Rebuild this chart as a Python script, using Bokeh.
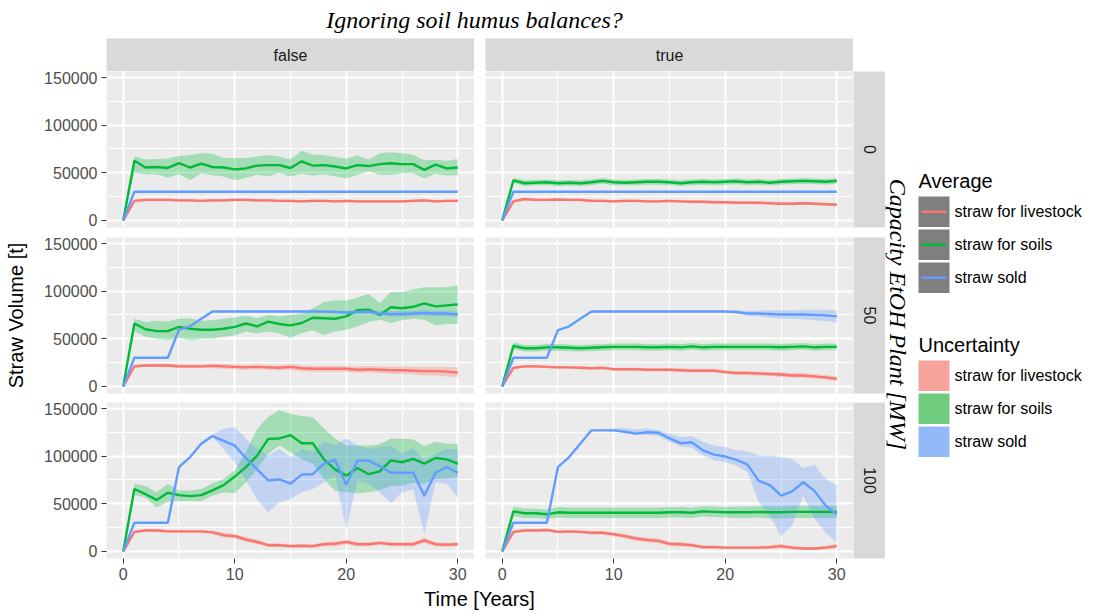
import math
from bokeh.plotting import figure
from bokeh.layouts import column, row
from bokeh.models import Range1d, FixedTicker, BasicTickFormatter, Label, Spacer
from bokeh.embed import file_html
from bokeh.resources import INLINE

# ---------------- data ----------------
years = [0, 1, 2, 3, 4, 5, 6, 7, 8, 9, 10, 11, 12, 13, 14, 15, 16, 17, 18, 19, 20,
         21, 22, 23, 24, 25, 26, 27, 28, 29, 30]
series_names = ["straw for livestock", "straw for soils", "straw sold"]
col_labels = ["false", "true"]
row_labels = ["0", "50", "100"]
x_ticks = [0, 10, 20, 30]
x_minor = [5, 15, 25]
y_ticks = [0, 50000, 100000, 150000]
y_minor = [25000, 75000, 125000]
title_text = "Ignoring soil humus balances?"
x_title = "Time [Years]"
y_title = "Straw Volume [t]"
row_title = "Capacity EtOH Plant [MW]"

# Panel false / 0
A_live = [0, 20500, 21500, 21500, 21500, 21000, 21000, 20500, 21000, 21000, 21500, 21500, 21000, 21000, 20500, 20500, 20000, 20500, 20500, 20000, 20500, 20000, 20000, 20000, 20000, 20000, 20500, 21000, 20000, 20500, 20500]
A_live_err = [0, 1500, 1500, 1500, 1500, 1500, 1500, 1500, 1500, 1500, 1500, 1500, 1500, 1500, 1500, 1500, 1500, 1500, 1500, 1500, 1500, 1500, 1500, 1500, 1500, 1500, 1500, 1500, 1500, 1500, 1500]
A_soil = [0, 62500, 55500, 56000, 55000, 60000, 55500, 59500, 56000, 55500, 53500, 54500, 57500, 58000, 58000, 55000, 62000, 57500, 58000, 56500, 54500, 58000, 57000, 59000, 60000, 59000, 59000, 53000, 58500, 54500, 55500]
A_soil_lo = [0, 50000, 48500, 48500, 45000, 48500, 42000, 49500, 47500, 46000, 42000, 44500, 48000, 46000, 50000, 46000, 49000, 47000, 48500, 46000, 44000, 48000, 51500, 48000, 48000, 49500, 49500, 44000, 49000, 47000, 47000]
A_soil_hi = [0, 67000, 64000, 64500, 65000, 67500, 68500, 70500, 70000, 65500, 65500, 65500, 67000, 68500, 67000, 64000, 73000, 69000, 68500, 66500, 65000, 68000, 63500, 70500, 71500, 70500, 68500, 63000, 63500, 62500, 64500]
A_sold = [0, 30000, 30000, 30000, 30000, 30000, 30000, 30000, 30000, 30000, 30000, 30000, 30000, 30000, 30000, 30000, 30000, 30000, 30000, 30000, 30000, 30000, 30000, 30000, 30000, 30000, 30000, 30000, 30000, 30000, 30000]

# Panel true / 0
B_live = [0, 20000, 22500, 21500, 21500, 22000, 21500, 21500, 20500, 20500, 20000, 20500, 20500, 20000, 20000, 20500, 20000, 19500, 19500, 19000, 19000, 18500, 18500, 18500, 18000, 17500, 17500, 18000, 17500, 17000, 16500]
B_live_err = [0, 1500, 1500, 1500, 1500, 1500, 1500, 1500, 1500, 1500, 1500, 1500, 1500, 1500, 1500, 1500, 1500, 1500, 1500, 1500, 1500, 1500, 1500, 1500, 1500, 1500, 1500, 1500, 1500, 1500, 1500]
B_soil = [0, 42000, 39000, 39500, 40000, 39000, 39500, 39000, 40000, 41500, 40000, 39500, 40000, 40500, 40500, 40000, 39000, 40000, 40500, 40000, 40500, 41000, 40000, 40500, 39500, 40500, 41000, 41500, 41000, 40500, 41500]
B_soil_err = [0, 2500, 3000, 3000, 3000, 3000, 3000, 3000, 3000, 3000, 3000, 3000, 3000, 3000, 3000, 3000, 3000, 3000, 3000, 3000, 3000, 3000, 3000, 3000, 3000, 3000, 3000, 3000, 3000, 3000, 3000]
B_sold = [0, 30000, 30000, 30000, 30000, 30000, 30000, 30000, 30000, 30000, 30000, 30000, 30000, 30000, 30000, 30000, 30000, 30000, 30000, 30000, 30000, 30000, 30000, 30000, 30000, 30000, 30000, 30000, 30000, 30000, 30000]

# Panel false / 50
C_live = [0, 21000, 22000, 22000, 22000, 21000, 21000, 21000, 21500, 21000, 20500, 20000, 20500, 20000, 19500, 20500, 19000, 18500, 18500, 18500, 18500, 17500, 18000, 17500, 17000, 17000, 16500, 16000, 16000, 15500, 14500]
C_live_err = [0, 1500, 1500, 1500, 2000, 2000, 2000, 2000, 2500, 2500, 2500, 2500, 2500, 2500, 2500, 3000, 3000, 3000, 3000, 3000, 3000, 3500, 3500, 3500, 4000, 4000, 4000, 4500, 4500, 5000, 5000]
C_soil = [0, 66000, 60000, 58000, 58000, 62500, 60500, 59500, 59500, 60500, 62500, 66000, 63000, 68000, 65500, 64000, 66500, 72000, 71500, 71000, 73500, 80000, 80500, 75000, 83000, 82000, 83500, 87000, 84000, 85000, 86000]
C_soil_lo = [0, 57500, 52000, 50000, 48500, 51000, 48500, 50000, 50000, 52000, 53500, 57500, 55500, 57500, 55500, 51000, 56000, 59000, 54000, 57500, 59500, 63000, 67500, 70000, 66500, 69500, 71000, 70000, 64000, 65500, 65500]
C_soil_hi = [0, 71000, 67500, 69000, 68000, 71000, 71500, 69000, 69500, 71000, 72500, 74000, 71500, 75000, 73500, 75000, 76500, 82000, 88500, 90000, 90000, 93000, 97000, 87500, 99000, 99000, 102000, 104000, 104000, 104000, 106000]
C_sold = [0, 30000, 30000, 30000, 30000, 59500, 63000, 71000, 78500, 78500, 78500, 78500, 78500, 78500, 78500, 78500, 78500, 78500, 78500, 78000, 77500, 78000, 78500, 76500, 76000, 76000, 76500, 77000, 76500, 76500, 75500]
C_sold_err = [0, 0, 0, 0, 0, 0, 0, 0, 0, 0, 0, 0, 0, 0, 0, 0, 0, 0, 500, 1000, 1500, 2000, 2500, 2500, 3000, 3000, 3000, 3000, 3000, 3000, 3000]

# Panel true / 50
D_live = [0, 19500, 21000, 21000, 20500, 20000, 20000, 19500, 19000, 19500, 18000, 18000, 18000, 17500, 17500, 17500, 17000, 16500, 16500, 16500, 15000, 14000, 14000, 13500, 13000, 12500, 11500, 11500, 10500, 9500, 8000]
D_live_err = [0, 1500, 1500, 1500, 1500, 1500, 1500, 1500, 1500, 1500, 1500, 1500, 1500, 1500, 1500, 1500, 2000, 2000, 2000, 2000, 2000, 2000, 2000, 2000, 2000, 2500, 2500, 2500, 2500, 2500, 2500]
D_soil = [0, 42500, 40000, 40000, 41000, 41000, 40500, 40000, 40500, 41000, 41500, 41500, 41500, 41000, 41000, 41500, 41000, 42000, 41000, 41500, 41500, 41500, 41500, 41500, 41500, 41000, 41500, 42000, 41000, 41500, 41500]
D_soil_err = [0, 3500, 3500, 3500, 3500, 3500, 3500, 3500, 3500, 3500, 3500, 3500, 3500, 3500, 3500, 3500, 3500, 3500, 3500, 3500, 3500, 3500, 3500, 3500, 3500, 3500, 3500, 3500, 3500, 3500, 3500]
D_sold = [0, 30000, 30000, 30000, 30000, 59000, 63000, 71000, 78500, 78500, 78500, 78500, 78500, 78500, 78500, 78500, 78500, 78500, 78500, 78500, 78500, 78000, 76500, 76500, 76000, 75500, 75500, 75500, 75000, 74500, 73500]
D_sold_err = [0, 0, 0, 0, 0, 0, 0, 0, 0, 0, 0, 0, 0, 0, 0, 0, 0, 0, 0, 0, 500, 1500, 2500, 3000, 4000, 4500, 4500, 5000, 5500, 6000, 6500]

# Panel false / 100
E_live = [0, 20500, 22000, 22000, 21000, 21000, 21000, 21000, 20000, 17000, 16000, 12500, 10000, 6500, 6500, 5500, 6000, 5500, 7500, 8000, 10000, 7500, 7500, 9000, 7500, 7500, 7500, 11500, 7500, 7000, 7500]
E_live_err = [0, 1500, 1500, 1500, 1500, 1500, 1500, 1500, 2000, 2500, 2500, 2500, 2500, 2000, 2000, 2000, 2000, 2000, 2000, 2500, 2500, 2000, 2000, 2000, 2000, 2000, 2000, 3000, 2000, 2000, 2000]
E_soil = [0, 65500, 60000, 54000, 61500, 59000, 58000, 59000, 64000, 69500, 78500, 88500, 100500, 118000, 118500, 122000, 113500, 113500, 96500, 86000, 79500, 87500, 81000, 84000, 95500, 93500, 97000, 92000, 98000, 96500, 92000]
E_soil_lo = [0, 59000, 56500, 46000, 52000, 53000, 53000, 53000, 58500, 62000, 61000, 72500, 86500, 102500, 111000, 104000, 97000, 92000, 76000, 63500, 62000, 61000, 62000, 64500, 68500, 69000, 72000, 71000, 76000, 76500, 78000]
E_soil_hi = [0, 71000, 68500, 62000, 71000, 64000, 64000, 65500, 71500, 76000, 85000, 104000, 128500, 141000, 148000, 144500, 142000, 141000, 129000, 118500, 111000, 111000, 111000, 112500, 118500, 118500, 117500, 110500, 115000, 113000, 113000]
E_sold = [0, 30000, 30000, 30000, 30000, 88500, 99000, 113000, 121000, 116000, 111000, 98000, 86000, 74500, 75500, 71000, 80500, 81000, 92000, 96000, 70000, 95000, 95500, 89500, 82500, 82500, 82500, 58500, 82500, 88500, 82500]
E_sold_lo = [0, 30000, 30000, 30000, 30000, 87500, 98000, 111000, 120000, 107500, 93500, 74500, 55000, 41000, 51500, 55000, 62000, 65500, 72500, 79500, 23000, 74500, 71000, 62000, 50500, 62000, 65500, 18000, 72500, 71000, 56500]
E_sold_hi = [0, 30000, 30000, 30000, 30000, 89500, 100000, 115000, 122500, 129000, 130500, 118500, 107500, 100500, 107500, 99000, 107500, 104000, 115000, 111000, 118500, 111000, 107500, 109500, 111000, 102500, 108500, 95500, 102500, 107500, 107500]

# Panel true / 100
F_live = [0, 20500, 22000, 22000, 22500, 20500, 21000, 20500, 19500, 19500, 18000, 16000, 13500, 12000, 11000, 8000, 7500, 6500, 4500, 4500, 4000, 4000, 4000, 4000, 4500, 5500, 4000, 3000, 3000, 4000, 5500]
F_live_err = [0, 1500, 1500, 1500, 1500, 1500, 1500, 1500, 2000, 2000, 2000, 2500, 2500, 2500, 2500, 2500, 2500, 2000, 2000, 2000, 1500, 1500, 1500, 1500, 2000, 2500, 2000, 1500, 1500, 2000, 2500]
F_soil = [0, 42000, 40000, 40000, 39000, 41000, 40500, 40500, 40500, 40500, 40500, 40500, 40500, 40500, 40500, 41000, 41000, 40500, 42000, 41500, 41000, 41000, 41000, 41500, 41000, 41000, 41500, 41500, 41500, 41500, 41500]
F_soil_err = [0, 5000, 5000, 5000, 5000, 5500, 5500, 5500, 5500, 5500, 5500, 5500, 5500, 5500, 5500, 5500, 5500, 5500, 5500, 5500, 5500, 6000, 6000, 6000, 6500, 6500, 6500, 6500, 6500, 6500, 6500]
F_sold = [0, 30000, 30000, 30000, 30000, 88500, 99000, 113000, 127000, 127000, 127000, 125500, 123500, 125000, 124500, 118500, 113500, 114500, 106000, 101500, 99500, 96000, 91000, 74000, 69500, 58500, 63000, 72500, 63500, 48000, 39000]
F_sold_lo = [0, 30000, 30000, 30000, 30000, 88500, 99000, 113000, 127000, 126500, 126000, 124500, 122000, 122500, 121000, 115000, 110000, 108500, 100500, 95500, 93500, 90000, 83000, 51500, 37500, 16000, 27000, 58500, 34000, 19500, 9000]
F_sold_hi = [0, 30000, 30000, 30000, 30000, 88500, 99000, 113000, 127000, 127500, 129000, 129500, 128000, 129000, 127000, 123500, 120000, 121000, 115000, 111000, 109500, 106000, 105000, 100500, 100500, 99000, 97000, 87500, 91000, 76000, 69500]


def band(mean, err):
    return [m - e for m, e in zip(mean, err)], [m + e for m, e in zip(mean, err)]


def flat(mean):
    return list(mean), list(mean)


# (row, col) -> list of (mean, lo, hi) for livestock, soils, sold
panel_data = {
    (0, 0): [(A_live, *band(A_live, A_live_err)), (A_soil, A_soil_lo, A_soil_hi), (A_sold, *flat(A_sold))],
    (0, 1): [(B_live, *band(B_live, B_live_err)), (B_soil, *band(B_soil, B_soil_err)), (B_sold, *flat(B_sold))],
    (1, 0): [(C_live, *band(C_live, C_live_err)), (C_soil, C_soil_lo, C_soil_hi), (C_sold, *band(C_sold, C_sold_err))],
    (1, 1): [(D_live, *band(D_live, D_live_err)), (D_soil, *band(D_soil, D_soil_err)), (D_sold, *band(D_sold, D_sold_err))],
    (2, 0): [(E_live, *band(E_live, E_live_err)), (E_soil, E_soil_lo, E_soil_hi), (E_sold, E_sold_lo, E_sold_hi)],
    (2, 1): [(F_live, *band(F_live, F_live_err)), (F_soil, *band(F_soil, F_soil_err)), (F_sold, F_sold_lo, F_sold_hi)],
}

# ---------------- style ----------------
colors = ["#F8766D", "#00BA38", "#619CFF"]
key_fill = ["#F5A39B", "#70CC7F", "#94B9F8"]
FONT = "Liberation Sans"
SERIF = "Liberation Serif"
PANEL_BG = "#EBEBEB"
STRIP_BG = "#D9D9D9"
FRAME_W, FRAME_H = 368, 156
BOTTOM_BORDERS = [10, 9, 30]


def blank(width, height, xr, yr, bg="white", ml=0, mb=0):
    f = figure(width=width, height=height, x_range=xr, y_range=yr,
               output_backend="svg", toolbar_location=None,
               x_axis_location=None, y_axis_location=None,
               background_fill_color=bg, border_fill_color="white",
               min_border_left=ml, min_border_right=0, min_border_top=0,
               min_border_bottom=mb)
    f.outline_line_color = None
    f.grid.visible = False
    return f


def strip(width, height, text, ml=0, mb=0, vertical=False):
    s = blank(width, height, Range1d(0, 1), Range1d(0, 1), bg=STRIP_BG, ml=ml, mb=mb)
    s.add_layout(Label(x=0.5, y=0.5, text=text, text_align="center", text_baseline="middle",
                       angle=(-math.pi / 2 if vertical else 0), text_font=FONT,
                       text_font_size="16px", text_color="#1A1A1A"))
    return s


def make_panel(ri, ci):
    left = ci == 0
    bottom = ri == 2
    ml = 106 if left else 11
    mb = BOTTOM_BORDERS[ri]
    p = figure(width=FRAME_W + ml, height=FRAME_H + mb,
               x_range=Range1d(-1.5, 31.5), y_range=Range1d(-7438, 156198),
               output_backend="svg", toolbar_location=None,
               x_axis_location=("below" if bottom else None),
               y_axis_location=("left" if left else None),
               background_fill_color=PANEL_BG, border_fill_color="white",
               min_border_left=ml, min_border_right=0, min_border_top=0, min_border_bottom=mb)
    p.outline_line_color = None
    xt = FixedTicker(ticks=x_ticks, minor_ticks=x_minor)
    yt = FixedTicker(ticks=y_ticks, minor_ticks=y_minor)
    p.xgrid.ticker = xt
    p.ygrid.ticker = yt
    for g in (p.xgrid, p.ygrid):
        g.grid_line_color = "white"
        g.grid_line_width = 2
        g.minor_grid_line_color = "white"
        g.minor_grid_line_width = 1
    axes = []
    if bottom:
        p.xaxis.ticker = xt
        axes.append(p.xaxis)
    if left:
        p.yaxis.ticker = yt
        p.yaxis.formatter = BasicTickFormatter(use_scientific=False)
        axes.append(p.yaxis)
        if ri == 1:
            p.yaxis.axis_label = y_title
            p.yaxis.axis_label_text_font = FONT
            p.yaxis.axis_label_text_font_size = "20px"
            p.yaxis.axis_label_text_font_style = "normal"
            p.yaxis.axis_label_text_color = "black"
            p.yaxis.axis_label_standoff = 14
    for ax in axes:
        ax.axis_line_color = None
        ax.major_tick_line_color = "#333333"
        ax.major_tick_line_width = 1
        ax.major_tick_out = 5
        ax.major_tick_in = 0
        ax.minor_tick_line_color = None
        ax.major_label_standoff = 4
        ax.major_label_text_font = FONT
        ax.major_label_text_font_size = "16px"
        ax.major_label_text_color = "#4D4D4D"

    data = panel_data[(ri, ci)]
    for (mean, lo, hi), c in zip(data, colors):
        p.varea(x=years, y1=lo, y2=hi, fill_color=c, fill_alpha=0.3)
    for (mean, lo, hi), c in zip(data, colors):
        p.line(x=years, y=mean, line_color=c, line_width=2.4)
    return p


# ---------------- layout ----------------
title_fig = blank(1093, 38, Range1d(0, 1093), Range1d(38, 0))
title_fig.add_layout(Label(x=474, y=19, text=title_text, text_align="center", text_baseline="middle",
                           text_font=SERIF, text_font_style="italic", text_font_size="24px",
                           text_color="black"))

top_strips = row(strip(474, 33, col_labels[0], ml=106),
                 strip(379, 33, col_labels[1], ml=11),
                 Spacer(width=240, height=33))

panel_rows = []
for ri in range(3):
    h = FRAME_H + BOTTOM_BORDERS[ri]
    panel_rows.append(row(make_panel(ri, 0), make_panel(ri, 1),
                          strip(32, h, row_labels[ri], mb=BOTTOM_BORDERS[ri], vertical=True)))
panels = column(*panel_rows)

# right side: facet-row title and legends (page pixel coordinates)
rf = blank(208, 517, Range1d(885, 1093), Range1d(588, 71))
rf.add_layout(Label(x=897, y=314, text=row_title, text_align="center", text_baseline="middle",
                    angle=-math.pi / 2, text_font=SERIF, text_font_style="italic",
                    text_font_size="24px", text_color="black"))
legend_titles = [("Average", 180), ("Uncertainty", 344)]
for t, y in legend_titles:
    rf.add_layout(Label(x=918, y=y, text=t, text_align="left", text_baseline="middle",
                        text_font=FONT, text_font_size="20px", text_color="black"))
avg_tops = [196, 229, 262]
unc_tops = [360, 393, 426]
KEY = 30.5
rf.quad(left=[918] * 3, right=[949] * 3, top=avg_tops, bottom=[t + KEY for t in avg_tops],
        fill_color="#7F7F7F", line_color=None)
mids = [t + KEY / 2 for t in avg_tops]
rf.segment(x0=[921] * 3, x1=[946] * 3, y0=mids, y1=mids, line_color=colors, line_width=2.4)
rf.quad(left=[918] * 3, right=[949] * 3, top=unc_tops, bottom=[t + KEY for t in unc_tops],
        fill_color=key_fill, line_color=None)
for tops in (avg_tops, unc_tops):
    for t, name in zip(tops, series_names):
        rf.add_layout(Label(x=954, y=t + KEY / 2, text=name, text_align="left", text_baseline="middle",
                            text_font=FONT, text_font_size="16px", text_color="black"))

middle = row(panels, rf)

xt_fig = blank(1093, 26, Range1d(0, 1093), Range1d(614, 588))
xt_fig.add_layout(Label(x=479, y=598, text=x_title, text_align="center", text_baseline="middle",
                        text_font=FONT, text_font_size="20px", text_color="black"))

layout = column(title_fig, top_strips, middle, xt_fig)

open("out.html", "w").write(file_html(layout, INLINE))
